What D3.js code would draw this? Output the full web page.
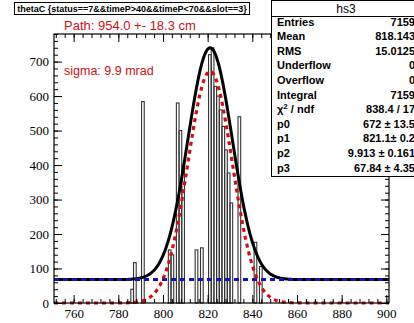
<!DOCTYPE html>
<html>
<head>
<meta charset="utf-8">
<script src="https://cdn.jsdelivr.net/npm/d3@7"></script>
<style>
  body { margin: 0; background: #fff; }
  svg { display: block; }
</style>
</head>
<body>
<svg id="chart" width="414" height="323"></svg>
<script>
// histogram bins (low edge, width 1.2) and their contents
const binLow = [785.6, 786.8, 790.4, 802.4, 803.6, 806.0, 807.2, 808.4, 814.4, 816.8,
                820.4, 821.6, 822.8, 824.0, 825.2, 826.4, 827.6, 828.8, 830.0, 833.6, 840.8, 843.2];
const binCounts = [40, 117, 584, 154, 140, 580, 500, 400, 154, 160,
                   720, 740, 628, 600, 560, 512, 444, 377, 290, 540, 176, 106];
const binWidth = 1.2;

// fit: p0*gaus(p1,p2) + p3
const parNames = ["p0", "p1", "p2", "p3"];
const parValues = [672, 821.1, 9.913, 67.84];
const parText = ["672 \u00b1 13.5", "821.1\u00b1 0.2", "9.913 \u00b1 0.161", "67.84 \u00b1 4.35"];

const statNames = ["Entries", "Mean", "RMS", "Underflow", "Overflow", "Integral"];
const statValues = ["7159", "818.143", "15.0125", "0", "0", "7159"];

const xTicks = [760, 780, 800, 820, 840, 860, 880, 900];
const yTicks = [0, 100, 200, 300, 400, 500, 600, 700];

const svg = d3.select("#chart");
svg.append("rect").attr("width", 414).attr("height", 323).attr("fill", "#fff");

const margin = {left: 54, right: 389, top: 34, bottom: 303};
const x = d3.scaleLinear().domain([751.2, 901.2]).range([margin.left, margin.right]);
const y = d3.scaleLinear().domain([0, 780]).range([margin.bottom, margin.top]);

const plot = svg.append("g");

// histogram, one outlined box per bin
plot.selectAll(".bin")
  .data(binLow.map((d, i) => ({lo: d, n: binCounts[i]})))
  .enter().append("rect")
  .attr("class", "bin")
  .attr("x", d => x(d.lo))
  .attr("width", d => x(d.lo + binWidth) - x(d.lo))
  .attr("y", d => y(d.n))
  .attr("height", d => y(0) - y(d.n))
  .attr("fill", "none")
  .attr("stroke", "#333")
  .attr("stroke-width", 1.1);

// fit curves from the fitted parameters
const [p0, p1, p2, p3] = parValues;
const gaus = v => p0 * Math.exp(-0.5 * Math.pow((v - p1) / p2, 2));
const xs = d3.range(751.2, 901.21, 0.3);

const line = d3.line().x(d => x(d[0])).y(d => y(d[1]));

plot.append("path")
  .attr("d", line(xs.map(v => [v, gaus(v) + p3])))
  .attr("fill", "none").attr("stroke", "#000").attr("stroke-width", 3);

plot.append("path")
  .attr("d", line([[751.2, p3], [901.2, p3]]))
  .attr("fill", "none").attr("stroke", "#1414b4").attr("stroke-width", 3)
  .attr("stroke-dasharray", "5,4");

plot.append("path")
  .attr("d", line(xs.map(v => [v, gaus(v)])))
  .attr("fill", "none").attr("stroke", "#cc1111").attr("stroke-width", 3.2)
  .attr("stroke-dasharray", "4,4");

// frame
svg.append("rect")
  .attr("x", margin.left).attr("y", margin.top)
  .attr("width", margin.right - margin.left).attr("height", margin.bottom - margin.top)
  .attr("fill", "none").attr("stroke", "#000").attr("stroke-width", 1.2);

// axes with inward ticks on all sides
const xMinor = d3.range(752, 901, 4);
const yMinor = d3.range(0, 781, 20);
function styleAxis(g) {
  g.select(".domain").remove();
  g.selectAll("line").attr("stroke", "#000");
  g.selectAll("text").attr("font-family", "'Liberation Serif', serif").attr("font-size", 13).attr("fill", "#000");
}
svg.append("g").attr("transform", `translate(0,${margin.bottom})`)
  .call(d3.axisBottom(x).tickValues(xTicks).tickSize(-8).tickPadding(6).tickFormat(d3.format("d"))).call(styleAxis);
svg.append("g").attr("transform", `translate(0,${margin.bottom})`)
  .call(d3.axisBottom(x).tickValues(xMinor).tickSize(-4).tickFormat("")).call(styleAxis);
svg.append("g").attr("transform", `translate(0,${margin.top})`)
  .call(d3.axisTop(x).tickValues(xTicks).tickSize(-8).tickFormat("")).call(styleAxis);
svg.append("g").attr("transform", `translate(0,${margin.top})`)
  .call(d3.axisTop(x).tickValues(xMinor).tickSize(-4).tickFormat("")).call(styleAxis);
svg.append("g").attr("transform", `translate(${margin.left},0)`)
  .call(d3.axisLeft(y).tickValues(yTicks).tickSize(-8).tickPadding(5).tickFormat(d3.format("d"))).call(styleAxis);
svg.append("g").attr("transform", `translate(${margin.left},0)`)
  .call(d3.axisLeft(y).tickValues(yMinor).tickSize(-4).tickFormat("")).call(styleAxis);
svg.append("g").attr("transform", `translate(${margin.right},0)`)
  .call(d3.axisRight(y).tickValues(yTicks).tickSize(-8).tickFormat("")).call(styleAxis);
svg.append("g").attr("transform", `translate(${margin.right},0)`)
  .call(d3.axisRight(y).tickValues(yMinor).tickSize(-4).tickFormat("")).call(styleAxis);

// title box
svg.append("rect").attr("x", 14.5).attr("y", 2.5).attr("width", 235).attr("height", 12)
  .attr("fill", "#fff").attr("stroke", "#000");
svg.append("text").attr("x", 132).attr("y", 12)
  .attr("text-anchor", "middle")
  .attr("font-family", "'Liberation Sans', Arial, sans-serif").attr("font-size", 9).attr("font-weight", "bold")
  .text("thetaC {status==7&&timeP>40&&timeP<70&&slot==3}");

// red annotations
svg.append("text").attr("x", 64).attr("y", 30)
  .attr("font-family", "'Liberation Sans', Arial, sans-serif").attr("font-size", 13).attr("fill", "#cc1111")
  .text("Path: 954.0 +- 18.3 cm");
svg.append("text").attr("x", 64).attr("y", 75)
  .attr("font-family", "'Liberation Sans', Arial, sans-serif").attr("font-size", 12.5).attr("fill", "#cc1111")
  .text("sigma: 9.9 mrad");

// stats box
const sb = svg.append("g").attr("font-family", "'Liberation Sans', Arial, sans-serif").attr("font-size", 11);
sb.append("rect").attr("x", 271.5).attr("y", 0.5).attr("width", 150).attr("height", 176)
  .attr("fill", "#fff").attr("stroke", "#000");
sb.append("line").attr("x1", 271.5).attr("x2", 414).attr("y1", 16.5).attr("y2", 16.5).attr("stroke", "#000");
sb.append("text").attr("x", 346).attr("y", 13).attr("text-anchor", "middle").attr("font-size", 12).text("hs3");

const rows = statNames.map((n, i) => [n, statValues[i]])
  .concat([["chi", "838.4 / 17"]])
  .concat(parNames.map((n, i) => [n, parText[i]]));
rows.forEach((r, i) => {
  const yy = 25.5 + i * 14.6;
  const t = sb.append("text").attr("x", 277).attr("y", yy).attr("font-weight", "bold");
  if (r[0] === "chi") {
    t.text("\u03c7");
    t.append("tspan").attr("dy", -4).attr("font-size", 8).text("2");
    t.append("tspan").attr("dy", 4).text(" / ndf");
  } else {
    t.text(r[0]);
  }
  sb.append("text").attr("x", 415).attr("y", yy).attr("text-anchor", "end")
    .attr("font-weight", "bold").text(r[1]);
});
</script>
</body>
</html>
